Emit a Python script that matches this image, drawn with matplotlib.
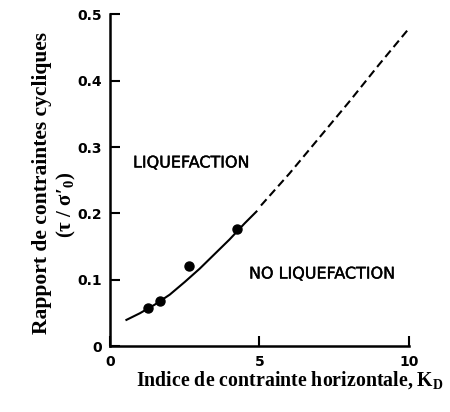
import matplotlib.pyplot as plt
import matplotlib.patheffects as pe

plt.rcParams['mathtext.fontset'] = 'custom'
plt.rcParams['mathtext.rm'] = 'Liberation Serif:bold'
plt.rcParams['mathtext.default'] = 'rm'

# measured points
kd_pts = [1.27, 1.67, 2.64, 4.26]
ratio_pts = [0.058, 0.069, 0.121, 0.177]

# fitted curve, solid part
kd_solid = [0.55, 1.0, 1.5, 2.0, 2.5, 3.0, 3.5, 4.0, 4.5, 4.9]
ratio_solid = [0.040, 0.050, 0.063, 0.078, 0.097, 0.117, 0.139, 0.161, 0.185, 0.203]

# extrapolated part (dashed)
kd_dash = [5.05, 6.0, 7.0, 8.0, 9.0, 10.05]
ratio_dash = [0.212, 0.260, 0.314, 0.368, 0.424, 0.481]

xticks = [0, 5, 10]
xtick_labels = ['0', '5', '10']
yticks = [0, 0.1, 0.2, 0.3, 0.4, 0.5]
ytick_labels = ['0', '0.1', '0.2', '0.3', '0.4', '0.5']

fig = plt.figure(figsize=(4.5, 4.12), dpi=100)
ax = fig.add_axes([0.2444, 0.159, 0.6644, 0.807])

ax.plot(kd_solid, ratio_solid, color='black', lw=1.5)
ax.plot(kd_dash, ratio_dash, color='black', lw=1.5, linestyle=(0, (4, 2.2)))
ax.plot(kd_pts, ratio_pts, 'o', color='black', ms=6.5)

ax.set_xlim(0, 10)
ax.set_ylim(0, 0.5)
ax.spines['top'].set_visible(False)
ax.spines['right'].set_visible(False)
for s in ['left', 'bottom']:
    ax.spines[s].set_linewidth(1.8)

ax.set_xticks(xticks)
ax.set_xticklabels(xtick_labels)
ax.set_yticks(yticks)
ax.set_yticklabels(ytick_labels)
ax.tick_params(direction='in', length=7, width=1.5, pad=6, labelsize=10)
for lab in ax.get_xticklabels() + ax.get_yticklabels():
    lab.set_fontweight('bold')

thick = [pe.withStroke(linewidth=0.3, foreground='black')]
ax.text(0.77, 0.276, 'LIQUEFACTION', fontsize=11.5, va='center', ha='left',
        path_effects=thick)
ax.text(4.65, 0.109, 'NO LIQUEFACTION', fontsize=11.5, va='center', ha='left',
        path_effects=thick)

fig.text(290 / 450, 1 - 380 / 412,
         'Indice de contrainte horizontale, K$_\\mathrm{D}$',
         ha='center', va='center', family='Liberation Serif',
         fontweight='bold', fontsize=14.3)
fig.text(42 / 450, 1 - 183 / 412, 'Rapport de contraintes cycliques',
         rotation=90, ha='center', va='center', family='Liberation Serif',
         fontweight='bold', fontsize=15.5)
fig.text(66 / 450, 1 - 205 / 412, "(τ / σ′$_0$)",
         rotation=90, ha='center', va='center', family='Liberation Serif',
         fontweight='bold', fontsize=15)

fig.savefig('out.png', dpi=100)
